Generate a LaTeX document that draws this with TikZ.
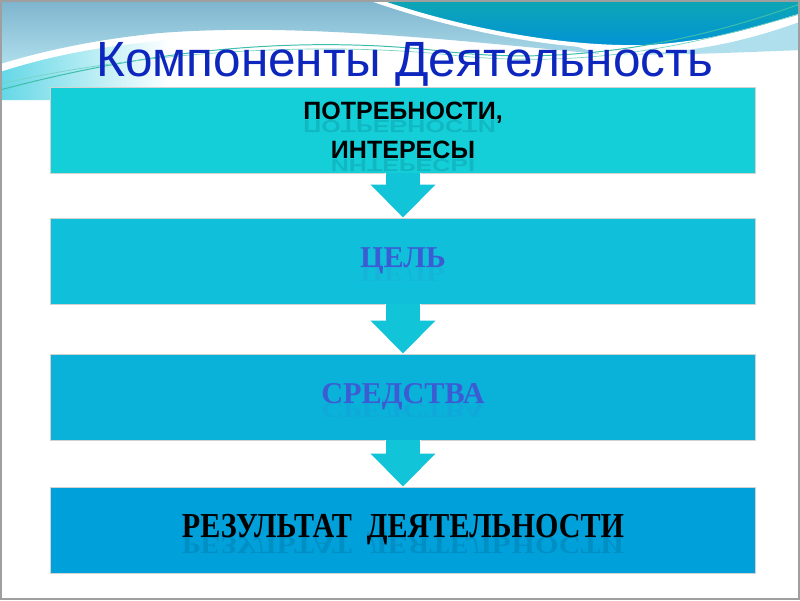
\documentclass[tikz,border=0pt]{standalone}
\usepackage{fontspec}
\setmainfont{Liberation Serif}
\setsansfont{Liberation Sans}
\usetikzlibrary{arrows.meta}

\definecolor{titleblue}{RGB}{13,38,190}
\definecolor{wordblue}{RGB}{60,92,212}
\definecolor{boxa}{RGB}{20,206,216}
\definecolor{boxb}{RGB}{16,192,218}
\definecolor{boxc}{RGB}{10,178,218}
\definecolor{boxd}{RGB}{0,160,219}
\definecolor{arrowfill}{RGB}{18,196,216}
\definecolor{skyblue}{RGB}{125,180,205}
\definecolor{skylight}{RGB}{175,222,236}
\definecolor{tealtop}{RGB}{15,168,176}
\definecolor{tealbot}{RGB}{0,146,216}
\definecolor{seacyan}{RGB}{100,215,230}
\definecolor{thread}{RGB}{60,190,170}

\tikzset{
  stage/.style={rectangle,minimum width=17.6cm,minimum height=2.15cm,
    draw=gray!35,line width=0.6pt,inner sep=0pt},
  flow/.style={arrowfill,line width=23.5pt,
    -{Triangle[width=44.8pt,length=23.5pt]}},
  flowedge/.style={white,line width=26pt,
    -{Triangle[width=48.5pt,length=25pt]}},
  mirror/.style={opacity=0.1,inner sep=0pt,anchor=base}
}

\begin{document}
\begin{tikzpicture}[x=0.025cm,y=-0.025cm]
  \useasboundingbox (0,0) rectangle (800,600);
  \fill[white] (0,0) rectangle (800,600);

  % top decoration
  \shade[top color=skyblue,bottom color=skylight]
    (0,0) -- (430,0) -- (600,54) .. controls (470,42) and (300,22) .. (160,33)
    .. controls (90,40) and (40,52) .. (0,64) -- cycle;
  \shade[left color=seacyan,right color=white]
    (0,72) .. controls (50,56) and (100,46) .. (170,40) -- (170,100) -- (0,100) -- cycle;
  \fill[skylight]
    (600,54) .. controls (680,56) and (740,44) .. (805,20) -- (805,50)
    .. controls (740,52) and (680,56) .. (600,54) -- cycle;
  \shade[top color=tealtop,bottom color=tealbot,draw=white,line width=3pt]
    (360,-5) -- (805,-5) -- (805,14) .. controls (760,28) and (720,42) .. (650,47)
    .. controls (560,50) and (450,28) .. (360,-5);
  \draw[thread,line width=0.7pt]
    (0,90) .. controls (150,50) and (300,34) .. (450,52)
    .. controls (580,66) and (700,40) .. (800,4);
  \draw[thread!70,line width=0.5pt]
    (0,84) .. controls (140,52) and (320,40) .. (460,56)
    .. controls (590,68) and (690,46) .. (800,14);

  % title
  \node[titleblue,font=\sffamily\fontsize{35.2}{40}\selectfont,anchor=base,inner sep=0pt]
    (title) at (405,76) {Компоненты Деятельность};

  % stages
  \node[stage,fill=boxa,font=\sffamily\bfseries\fontsize{17.8}{27.7}\selectfont,align=center]
    (b1) at (403,130) {ПОТРЕБНОСТИ,\\ИНТЕРЕСЫ};
  \node[stage,fill=boxb,text=wordblue,font=\bfseries\fontsize{21.5}{24}\selectfont]
    (b2) at (403,261) {ЦЕЛЬ};
  \node[stage,fill=boxc,text=wordblue,font=\bfseries\fontsize{21.5}{24}\selectfont]
    (b3) at (403,397) {СРЕДСТВА};
  \node[stage,fill=boxd,font=\bfseries\fontsize{24.9}{28}\selectfont]
    (b4) at (403,530) {\scalebox{0.86}[1]{РЕЗУЛЬТАТ\ \ ДЕЯТЕЛЬНОСТИ}};

  % reflections
  \node[mirror,font=\sffamily\bfseries\fontsize{17.8}{20}\selectfont]
    (m1a) at (403,120) {\scalebox{1}[-0.7]{ПОТРЕБНОСТИ,}};
  \node[mirror,font=\sffamily\bfseries\fontsize{17.8}{20}\selectfont]
    (m1b) at (403,159) {\scalebox{1}[-0.7]{ИНТЕРЕСЫ}};
  \node[mirror,text=wordblue,font=\bfseries\fontsize{21.5}{24}\selectfont]
    (m2) at (b2.base) {\scalebox{1}[-0.7]{ЦЕЛЬ}};
  \node[mirror,text=wordblue,font=\bfseries\fontsize{21.5}{24}\selectfont]
    (m3) at (b3.base) {\scalebox{1}[-0.7]{СРЕДСТВА}};
  \node[mirror,font=\bfseries\fontsize{24.9}{28}\selectfont]
    (m4) at (b4.base) {\scalebox{0.86}[-0.7]{РЕЗУЛЬТАТ\ \ ДЕЯТЕЛЬНОСТИ}};

  % arrows
  \foreach \from/\to in {b1/b2,b2/b3,b3/b4}{
    \draw[flowedge] (\from.south) -- (\to.north);
    \draw[flow] (\from.south) -- (\to.north);
  }

  % frame
  \draw[gray!75,line width=1.5pt] (1,1) rectangle (799,599);
\end{tikzpicture}
\end{document}
